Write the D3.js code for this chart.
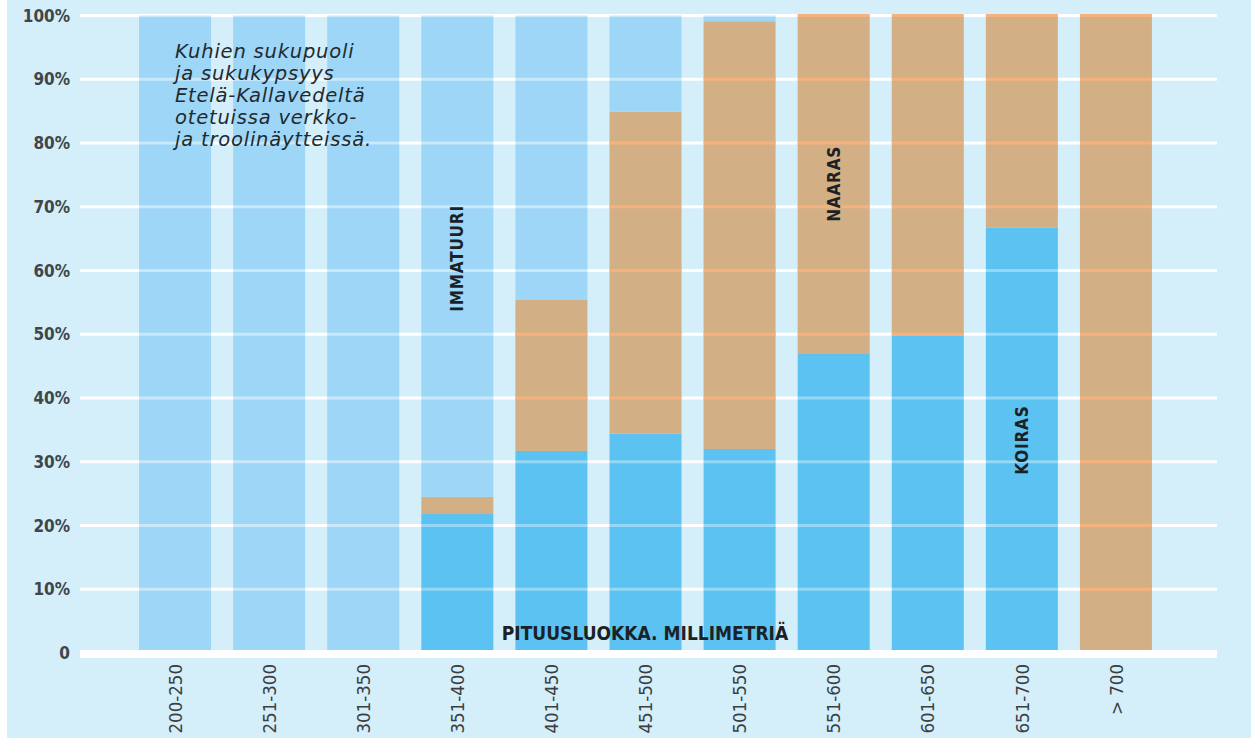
<!DOCTYPE html>
<html>
<head>
<meta charset="utf-8">
<script src="https://cdn.jsdelivr.net/npm/d3@7"></script>
<style>
  html, body { margin: 0; padding: 0; background: #ffffff; }
  svg { display: block; }
</style>
</head>
<body>
<svg id="chart" width="1251" height="741"></svg>
<script>
// ---- data ----
const categories = ["200-250", "251-300", "301-350", "351-400", "401-450", "451-500",
                    "501-550", "551-600", "601-650", "651-700", "> 700"];
// share of males (KOIRAS), females (NAARAS), immature (IMMATUURI), in %
const koiras    = [0, 0, 0, 21.8, 31.7, 34.4, 32.0, 46.9, 50.0, 66.7, 0];
const naaras    = [0, 0, 0, 2.7, 23.7, 50.5, 67.1, 53.1, 50.0, 33.3, 100];
const immatuuri = [100, 100, 100, 75.5, 44.6, 15.1, 0.9, 0, 0, 0, 0];
const yTicks = [0, 10, 20, 30, 40, 50, 60, 70, 80, 90, 100];
const yTickLabels = ["0", "10%", "20%", "30%", "40%", "50%", "60%", "70%", "80%", "90%", "100%"];
const titleLines = ["Kuhien sukupuoli", "ja sukukypsyys", "Etelä-Kallavedeltä",
                    "otetuissa verkko-", "ja troolinäytteissä."];
const seriesKeys = ["koiras", "naaras", "immatuuri"];
const seriesLabels = ["KOIRAS", "NAARAS", "IMMATUURI"];
const xAxisTitle = "PITUUSLUOKKA. MILLIMETRIÄ";

// ---- styles ----
const colors = { koiras: "#5bc2f1", naaras: "#d2af84", immatuuri: "#9dd6f6" };
const gridOver = { koiras: "rgba(255,255,255,0.35)", naaras: "#f6b27c", immatuuri: "rgba(255,255,255,0.45)" };
const condensed = "'DejaVu Sans Condensed', 'Liberation Sans Narrow', sans-serif";

const svg = d3.select("#chart");
svg.append("rect").attr("x", 7).attr("y", 0).attr("width", 1244).attr("height", 738).attr("fill", "#d4eefa");

const x = d3.scaleBand().domain(categories).range([128, 1163]).paddingInner(0.235).paddingOuter(0.1175);
const y = d3.scaleLinear().domain([0, 100]).range([653, 15.5]);
const gridX0 = 80, gridX1 = 1217;

// background gridlines
svg.append("g").selectAll("line").data(yTicks.filter(d => d > 0)).join("line")
  .attr("x1", gridX0).attr("x2", gridX1)
  .attr("y1", d => y(d)).attr("y2", d => y(d))
  .attr("stroke", "#ffffff").attr("stroke-width", 3);

// stacked data
const rows = categories.map((c, i) => ({ cat: c, koiras: koiras[i], naaras: naaras[i], immatuuri: immatuuri[i] }));
const stack = d3.stack().keys(seriesKeys)(rows);

const gBars = svg.append("g");
stack.forEach(layer => {
  const key = layer.key;
  layer.forEach(seg => {
    if (seg[1] - seg[0] <= 0) return;
    const cat = seg.data.cat;
    gBars.append("rect")
      .attr("x", x(cat)).attr("width", x.bandwidth())
      .attr("y", y(seg[1])).attr("height", y(seg[0]) - y(seg[1]))
      .attr("fill", colors[key]);
    // gridlines shown through the segment
    yTicks.filter(t => t > 0 && t >= seg[0] && t <= seg[1]).forEach(t => {
      gBars.append("line")
        .attr("x1", x(cat)).attr("x2", x(cat) + x.bandwidth())
        .attr("y1", y(t)).attr("y2", y(t))
        .attr("stroke", gridOver[key]).attr("stroke-width", 3);
    });
  });
});

// baseline
svg.append("rect").attr("x", gridX0).attr("y", y(0) - 3).attr("width", gridX1 - gridX0).attr("height", 8).attr("fill", "#ffffff");

// y-axis labels
svg.append("g").selectAll("text").data(yTicks).join("text")
  .attr("x", 70).attr("y", d => y(d))
  .attr("dy", "0.36em")
  .attr("text-anchor", "end")
  .attr("font-family", condensed).attr("font-size", 17).attr("font-weight", "bold")
  .attr("fill", "#404548")
  .text((d, i) => yTickLabels[i]);

// x-axis labels (rotated)
svg.append("g").selectAll("text").data(categories).join("text")
  .attr("transform", d => `translate(${x(d) + x.bandwidth() / 2},664) rotate(-90)`)
  .attr("text-anchor", "end").attr("dy", "0.36em")
  .attr("font-family", condensed).attr("font-size", 18.5)
  .attr("fill", "#3a3f42")
  .text(d => d);

// series labels inside bars
const labelSpecs = [
  { key: "immatuuri", cat: "351-400", val: 61.9 },
  { key: "naaras", cat: "551-600", val: 73.6 },
  { key: "koiras", cat: "651-700", val: 33.4 }
];
labelSpecs.forEach(s => {
  svg.append("text")
    .attr("transform", `translate(${x(s.cat) + x.bandwidth() / 2},${y(s.val)}) rotate(-90)`)
    .attr("text-anchor", "middle").attr("dy", "0.36em")
    .attr("font-family", condensed).attr("font-size", 17).attr("font-weight", "bold")
    .attr("letter-spacing", 0.8)
    .attr("fill", "#1b2226")
    .text(seriesLabels[seriesKeys.indexOf(s.key)]);
});

// x-axis title
svg.append("text")
  .attr("x", 645).attr("y", 640)
  .attr("text-anchor", "middle")
  .attr("font-family", condensed).attr("font-size", 19).attr("font-weight", "bold")
  .attr("fill", "#1b2226")
  .text(xAxisTitle);

// chart title block
svg.append("g").selectAll("text").data(titleLines).join("text")
  .attr("x", 175).attr("y", (d, i) => 58 + i * 22)
  .attr("font-family", "'DejaVu Sans', 'Noto Sans', sans-serif").attr("font-style", "italic")
  .attr("font-size", 19.5).attr("letter-spacing", 0.8).attr("fill", "#1f2a30")
  .text(d => d);
</script>
</body>
</html>
